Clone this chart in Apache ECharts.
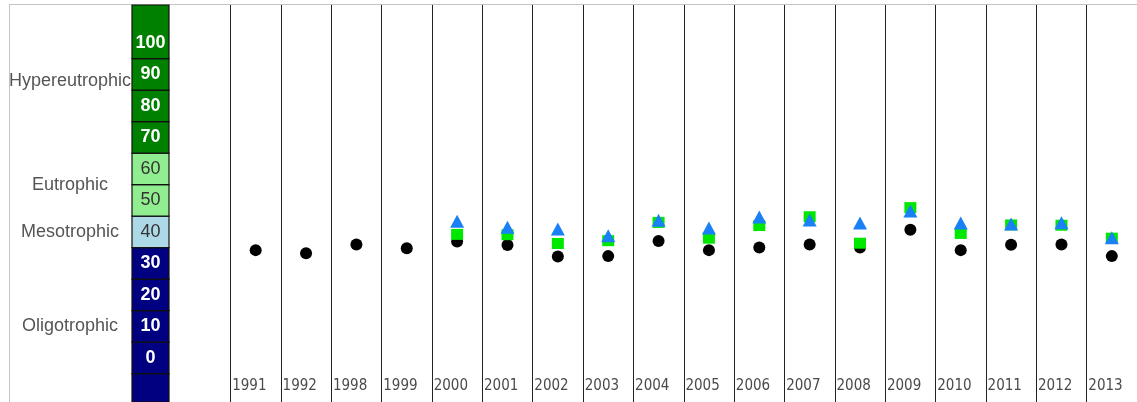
<!DOCTYPE html>
<html>
<head>
<meta charset="utf-8">
<script src="https://cdn.jsdelivr.net/npm/echarts@6/dist/echarts.min.js"></script>
<style>
  html, body { margin: 0; padding: 0; background: #fff; }
  #chart { width: 1137px; height: 402px; }
</style>
</head>
<body>
<div id="chart"></div>
<script>
// years sampled
const years = ['1991', '1992', '1998', '1999', '2000', '2001', '2002', '2003', '2004',
  '2005', '2006', '2007', '2008', '2009', '2010', '2011', '2012', '2013']

// TSI values per year (black = Secchi, green = chlorophyll, blue = phosphorus)
const tsiSecchi = [34.2, 33.2, 36.0, 34.8, 36.9, 35.8, 32.2, 32.3, 37.1,
  34.2, 35.0, 36.0, 35.0, 40.7, 34.2, 35.9, 36.0, 32.3]
const tsiChl = [null, null, null, null, 39.2, 39.1, 36.3, 37.2, 43.0,
  38.0, 42.0, 44.8, 36.4, 47.7, 39.5, 42.2, 42.1, 38.0]
const tsiTp = [null, null, null, null, 43.4, 41.5, 40.9, 38.8, 43.7,
  41.2, 44.7, 43.8, 42.8, 46.6, 42.8, 42.5, 42.9, 38.1]

// scale column
const scaleTicks = [0, 10, 20, 30, 40, 50, 60, 70, 80, 90, 100]
const bandEdges = [-14, -5, 5, 15, 25, 35, 45, 55, 65, 75, 85, 95, 112]
const bandColors = ['#000080', '#000080', '#000080', '#000080', '#000080', '#add8e6',
  '#90ee90', '#90ee90', '#008000', '#008000', '#008000', '#008000']
const trophicNames = ['Oligotrophic', 'Mesotrophic', 'Eutrophic', 'Hypereutrophic']
const trophicAt = [10, 40, 55, 88]

const yMin = -14
const yMax = 112

const chart = echarts.init(document.getElementById('chart'))

const bands = []
for (let i = 0; i < bandColors.length; i++) {
  bands.push([
    { yAxis: bandEdges[i], itemStyle: { color: bandColors[i], borderColor: '#111', borderWidth: 1.2 } },
    { yAxis: bandEdges[i + 1] },
  ])
}

const option = {
  backgroundColor: '#fff',
  animation: false,
  graphic: [
    { type: 'line', shape: { x1: 9, y1: 4.5, x2: 1137, y2: 4.5 }, style: { stroke: '#c4c4c4', lineWidth: 1 } },
    { type: 'line', shape: { x1: 9.5, y1: 4.5, x2: 9.5, y2: 402 }, style: { stroke: '#c4c4c4', lineWidth: 1 } },
  ],
  grid: [
    { left: 132, top: 5, width: 37, height: 397 },
    { left: 230.5, top: 5, width: 912.6, height: 397 },
  ],
  xAxis: [
    { gridIndex: 0, type: 'category', data: [''], show: false },
    {
      gridIndex: 1,
      type: 'category',
      data: years,
      boundaryGap: true,
      axisLine: { show: false },
      axisTick: { show: false },
      splitLine: { show: true, lineStyle: { color: '#222', width: 1 } },
      axisLabel: {
        inside: true,
        margin: 8,
        interval: 0,
        formatter: (v) => '{y|' + v + '}',
        rich: {
          y: {
            width: 47,
            align: 'left',
            fontSize: 15,
            fontFamily: '"DejaVu Sans Condensed", "Liberation Sans", sans-serif',
            color: '#4a4a4a',
          },
        },
      },
    },
  ],
  yAxis: [
    {
      gridIndex: 0,
      type: 'value',
      min: yMin,
      max: yMax,
      position: 'left',
      z: 10,
      axisLine: { show: false },
      axisTick: { show: false },
      splitLine: { show: false },
      axisLabel: {
        inside: true,
        margin: 18.5,
        align: 'center',
        customValues: scaleTicks,
        formatter: (v) => (v >= 40 && v <= 60 ? '{d|' + v + '}' : '{w|' + v + '}'),
        rich: {
          w: { color: '#fff', fontWeight: 'bold', fontSize: 18, fontFamily: '"Liberation Sans", Arial, sans-serif' },
          d: { color: '#333', fontSize: 18, fontFamily: '"Liberation Sans", Arial, sans-serif' },
        },
      },
    },
    {
      gridIndex: 0,
      type: 'value',
      min: yMin,
      max: yMax,
      position: 'left',
      axisLine: { show: false },
      axisTick: { show: false },
      splitLine: { show: false },
      axisLabel: {
        margin: 62,
        align: 'center',
        customValues: trophicAt,
        formatter: (v) => trophicNames[trophicAt.indexOf(v)] || '',
        color: '#555',
        fontSize: 18,
        fontFamily: '"Liberation Sans", Arial, sans-serif',
      },
    },
    { gridIndex: 1, type: 'value', min: yMin, max: yMax, show: false },
  ],
  series: [
    {
      name: 'scale',
      type: 'scatter',
      xAxisIndex: 0,
      yAxisIndex: 0,
      data: [],
      silent: true,
      z: 1,
      markArea: { silent: true, data: bands },
    },
    {
      name: 'TSI (SD)',
      type: 'scatter',
      xAxisIndex: 1,
      yAxisIndex: 2,
      symbol: 'circle',
      symbolSize: 12,
      itemStyle: { color: '#000', opacity: 1 },
      data: tsiSecchi,
    },
    {
      name: 'TSI (CHL)',
      type: 'scatter',
      xAxisIndex: 1,
      yAxisIndex: 2,
      symbol: 'rect',
      symbolSize: [12, 11],
      itemStyle: { color: '#00e800', opacity: 1 },
      data: tsiChl,
    },
    {
      name: 'TSI (TP)',
      type: 'scatter',
      xAxisIndex: 1,
      yAxisIndex: 2,
      symbol: 'triangle',
      symbolSize: [14, 13],
      itemStyle: { color: '#1a80f5', opacity: 1 },
      data: tsiTp,
    },
  ],
}

chart.setOption(option)
</script>
</body>
</html>
